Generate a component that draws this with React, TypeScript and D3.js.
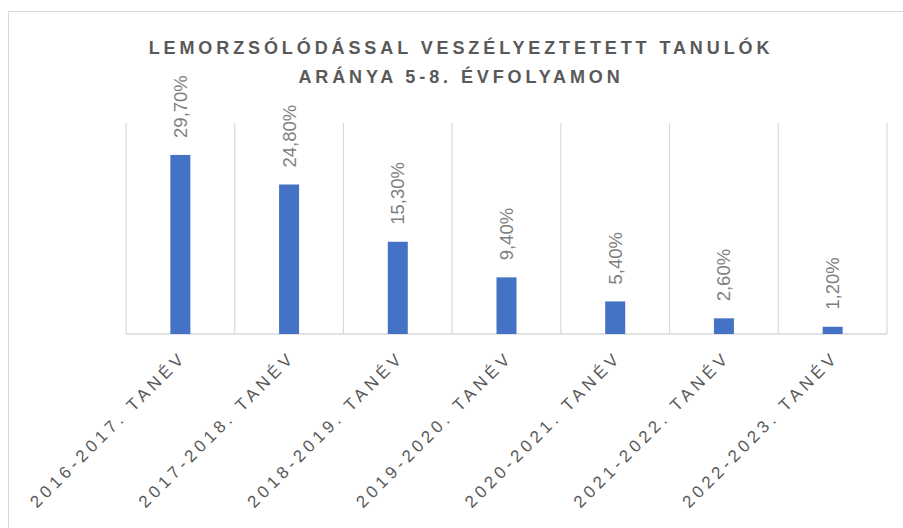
import React from "react";
import * as d3 from "d3";

const categories = [
  "2016-2017. TANÉV",
  "2017-2018. TANÉV",
  "2018-2019. TANÉV",
  "2019-2020. TANÉV",
  "2020-2021. TANÉV",
  "2021-2022. TANÉV",
  "2022-2023. TANÉV",
];
const values = [29.7, 24.8, 15.3, 9.4, 5.4, 2.6, 1.2];
const valueLabels = ["29,70%", "24,80%", "15,30%", "9,40%", "5,40%", "2,60%", "1,20%"];
const titleLines = ["LEMORZSÓLÓDÁSSAL VESZÉLYEZTETETT TANULÓK", "ARÁNYA 5-8. ÉVFOLYAMON"];
const yMax = 35;

export default function App() {
  const W = 903;
  const H = 528;
  const left = 126;
  const right = 887;
  const top = 123;
  const bottom = 334;

  const x = d3
    .scaleBand<string>()
    .domain(categories)
    .range([left, right])
    .paddingInner(0.816)
    .paddingOuter(0.408);
  const y = d3.scaleLinear().domain([0, yMax]).range([bottom, top]);
  const step = x.step();
  const bounds = d3.range(categories.length + 1).map((i) => left + i * step);
  const font = "'Liberation Sans', Arial, sans-serif";

  return (
    <svg
      width={W}
      height={H}
      style={{ position: "fixed", left: 0, top: 0, background: "#fff" }}
    >
      <rect x={8.5} y={11.5} width={1200} height={1200} fill="#fff" stroke="#d9d9d9" strokeWidth={1} />
      {titleLines.map((t, i) => (
        <text
          key={i}
          x={461}
          y={54 + i * 29}
          textAnchor="middle"
          fontFamily={font}
          fontWeight="bold"
          fontSize={18}
          letterSpacing={3.9}
          fill="#595959"
        >
          {t}
        </text>
      ))}
      {bounds.map((bx, i) => (
        <line key={i} x1={bx} x2={bx} y1={top} y2={bottom} stroke="#d9d9d9" strokeWidth={1.2} />
      ))}
      <line x1={left} x2={right} y1={bottom} y2={bottom} stroke="#d9d9d9" strokeWidth={1.5} />
      {categories.map((c, i) => (
        <rect
          key={c}
          x={x(c)!}
          y={y(values[i])}
          width={x.bandwidth()}
          height={bottom - y(values[i])}
          fill="#4472c4"
        />
      ))}
      {categories.map((c, i) => {
        const cx = x(c)! + x.bandwidth() / 2;
        const ty = y(values[i]) - 17;
        return (
          <text
            key={"v" + c}
            transform={`translate(${cx},${ty}) rotate(-90)`}
            dy="0.35em"
            fontFamily={font}
            fontSize={18.5}
            fill="#7f7f7f"
          >
            {valueLabels[i]}
          </text>
        );
      })}
      {categories.map((c, i) => {
        const cx = x(c)! + x.bandwidth() / 2;
        return (
          <text
            key={"x" + c}
            transform={`translate(${cx + 3},${bottom + 20}) rotate(-45)`}
            dy="0.35em"
            textAnchor="end"
            fontFamily={font}
            fontSize={17}
            letterSpacing={4.2}
            fill="#595959"
          >
            {c}
          </text>
        );
      })}
    </svg>
  );
}
